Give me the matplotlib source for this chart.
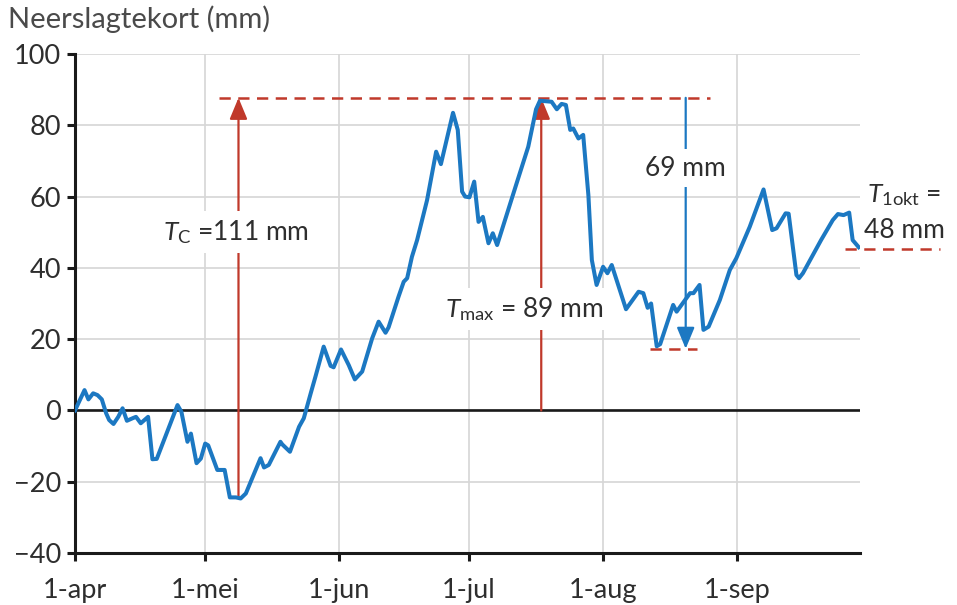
import matplotlib
matplotlib.use("Agg")
import matplotlib.pyplot as plt

plt.rcParams['font.family'] = ['Lato', 'DejaVu Sans']
plt.rcParams['mathtext.fontset'] = 'custom'
plt.rcParams['mathtext.rm'] = 'Lato'
plt.rcParams['mathtext.it'] = 'Lato:italic'

# Day number counted from 1 April, and cumulative precipitation deficit (mm)
days = [0.0, 2.2, 3.1, 4.2, 5.2, 6.2, 7.2, 7.9, 8.9, 10.0, 11.0, 12.0, 13.3, 14.1,
        15.2, 16.9, 17.9, 18.9, 23.7, 24.6, 26.0, 26.8, 28.1, 29.1, 30.1, 30.8,
        32.9, 34.6, 35.8, 37.2, 38.3, 39.5, 42.9, 43.7, 44.8, 47.5, 47.9, 49.7,
        51.8, 52.9, 54.5, 55.6, 57.5, 59.1, 59.8, 61.5, 63.3, 64.7, 66.4, 68.7,
        70.2, 71.8, 72.5, 74.8, 76.0, 76.8, 77.9, 79.1, 81.4, 83.5, 84.6, 87.4,
        88.5, 89.5, 90.2, 91.2, 92.3, 93.3, 94.3, 95.6, 96.6, 97.6, 102.1, 104.8,
        106.6, 107.5, 110.2, 111.4, 112.5, 113.5, 114.5, 115.2, 116.4, 117.5,
        118.7, 119.5, 120.6, 122.1, 123.1, 124.1, 127.4, 130.3, 131.4, 132.4,
        133.2, 134.5, 135.3, 138.3, 139.1, 142.2, 143.0, 144.4, 145.3, 146.5,
        149.1, 151.4, 152.9, 156.0, 159.2, 161.2, 162.2, 164.3, 165.0, 166.8,
        167.4, 168.3, 172.5, 175.2, 176.4, 177.7, 179.0, 179.8, 181.2]
deficit = [0.0, 5.7, 3.1, 4.8, 4.3, 3.1, -0.8, -2.7, -3.8, -1.8, 0.6, -2.9, -2.2, -1.8,
           -3.6, -1.8, -13.7, -13.6, 1.5, -0.4, -8.8, -6.5, -14.8, -13.5, -9.3, -9.8,
           -16.7, -16.7, -24.4, -24.4, -24.7, -23.3, -13.4, -16.0, -15.3, -8.8, -9.5, -11.6,
           -4.6, -2.2, 4.8, 9.5, 17.9, 12.5, 12.1, 17.1, 12.7, 8.7, 10.9, 20.2,
           24.9, 21.8, 23.3, 31.9, 36.1, 37.1, 43.1, 47.8, 59.0, 72.6, 69.1, 83.5,
           78.7, 61.4, 60.0, 59.8, 64.2, 52.9, 54.3, 46.9, 49.7, 46.4, 63.7, 74.0,
           84.5, 86.9, 86.6, 84.5, 86.0, 85.7, 78.7, 79.1, 76.3, 77.3,
           60.4, 42.2, 35.2, 40.3, 38.5, 40.8, 28.4, 33.3, 32.9, 28.8,
           30.0, 18.0, 18.6, 29.6, 27.7, 32.9, 32.9, 35.2, 22.6, 23.5,
           31.0, 39.4, 42.7, 51.5, 62.0, 50.6, 51.1, 55.3, 55.2, 38.0,
           37.1, 38.5, 47.8, 53.4, 55.1, 54.8, 55.5, 47.8, 45.8]

month_days = [0, 30, 61, 91, 122, 153]
month_labels = ['1-apr', '1-mei', '1-jun', '1-jul', '1-aug', '1-sep']
y_ticks = [-40, -20, 0, 20, 40, 60, 80, 100]

# Key levels used by the annotations (mm)
level_max = 87.7
level_min = -24.4
level_low = 17.3
level_end = 45.3
day_tc = 37.8
day_tmax = 107.8
day_drop = 141.2

BLUE = '#1c78c2'
RED = '#c0392b'
GRID = '#d6d6d6'
TXT = '#2e2e2e'
FS_TICK = 19.5
FS_NOTE = 19
FS_TITLE = 21

fig = plt.figure(figsize=(9.57, 6.05), dpi=100)
ax = fig.add_axes([75/957, 1-553/605, (860-75)/957, (553-54)/605])

ax.set_xlim(0, 181.5)
ax.set_ylim(-40, 100)
ax.set_xticks(month_days)
ax.set_xticklabels(month_labels)
ax.set_yticks(y_ticks)
ax.grid(True, color=GRID, lw=1.2, zorder=0)
ax.set_axisbelow(True)
for s in ['top', 'right']:
    ax.spines[s].set_visible(False)
for s in ['left', 'bottom']:
    ax.spines[s].set_linewidth(2.2)
    ax.spines[s].set_color('#1a1a1a')
ax.tick_params(axis='both', direction='out', length=6, width=2.2, color='#1a1a1a',
               labelsize=FS_TICK, labelcolor=TXT)
ax.tick_params(axis='x', pad=12)
ax.tick_params(axis='y', pad=4)

ax.axhline(0, color='#1a1a1a', lw=1.9, zorder=2)

ax.plot(days, deficit, color=BLUE, lw=2.9, zorder=4, solid_joinstyle='round')

dash = (0, (4.5, 3.0))
ax.plot([33.2, 146.8], [level_max, level_max], color=RED, lw=1.8, ls=dash, zorder=3)
ax.plot([133.0, 143.8], [level_low, level_low], color=RED, lw=1.8, ls=dash, zorder=3)
ax.plot([178.0, 200.0], [level_end, level_end], color=RED, lw=1.8, ls=dash, zorder=3,
        clip_on=False)

arrow_style = '-|>,head_length=0.65,head_width=0.27'
ax.annotate('', xy=(day_tc, level_max), xytext=(day_tc, level_min),
            arrowprops=dict(arrowstyle=arrow_style, mutation_scale=20, color=RED,
                            lw=1.6, shrinkA=0, shrinkB=0), zorder=3)
ax.annotate('', xy=(day_tmax, level_max), xytext=(day_tmax, 0),
            arrowprops=dict(arrowstyle=arrow_style, mutation_scale=20, color=RED,
                            lw=1.6, shrinkA=0, shrinkB=0), zorder=3)
ax.annotate('', xy=(day_drop, level_low), xytext=(day_drop, level_max),
            arrowprops=dict(arrowstyle=arrow_style, mutation_scale=20, color=BLUE,
                            lw=1.6, shrinkA=0, shrinkB=0), zorder=3)

box = dict(facecolor='white', edgecolor='none', boxstyle='square,pad=0.25')
ax.text(37.2, 47.8, r'$T_{\mathrm{C}}$ =111 mm', ha='center', va='baseline',
        fontsize=FS_NOTE, color=TXT, bbox=box, zorder=6)
ax.text(103.9, 26.2, r'$T_{\mathrm{max}}$ = 89 mm', ha='center', va='baseline',
        fontsize=FS_NOTE, color=TXT, bbox=box, zorder=6)
ax.text(day_drop, 65.8, '69 mm', ha='center', va='baseline',
        fontsize=FS_NOTE, color=TXT, bbox=box, zorder=6)
ax.text(191.8, 58.5, r'$T_{\mathrm{1okt}}$ =', ha='center', va='baseline',
        fontsize=FS_NOTE, color=TXT, zorder=6, clip_on=False)
ax.text(191.8, 48.4, '48 mm', ha='center', va='baseline',
        fontsize=FS_NOTE, color=TXT, zorder=6, clip_on=False)

fig.text(8/957, 1-19/605, 'Neerslagtekort (mm)', ha='left', va='center',
         fontsize=FS_TITLE, color='#4a4a4a')

fig.savefig('out.png', dpi=100)
